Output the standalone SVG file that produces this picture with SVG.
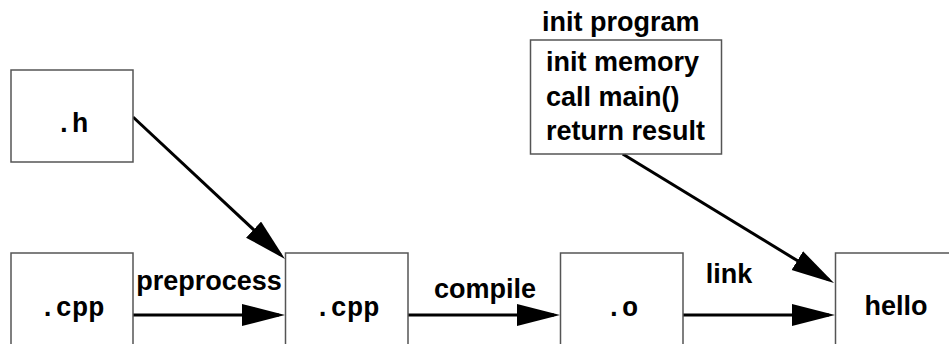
<svg xmlns="http://www.w3.org/2000/svg" width="949" height="344" viewBox="0 0 949 344">
  <style>
    .box { fill: #ffffff; stroke: #555555; stroke-width: 1.5; }
    .file { font-family: "Liberation Mono", "Courier New", monospace; font-weight: bold; font-size: 27px; fill: #000000; text-anchor: middle; }
    .lbl { font-family: "Liberation Sans", Arial, Helvetica, sans-serif; font-weight: bold; font-size: 27px; fill: #000000; }
    .mid { text-anchor: middle; }
    .edge { stroke: #000000; stroke-width: 3; fill: none; marker-end: url(#head); }
  </style>
  <defs>
    <marker id="head" markerUnits="userSpaceOnUse" markerWidth="44" markerHeight="24" refX="37" refY="11" orient="auto">
      <path d="M0,0 L43,11 L0,22 Z" fill="#000000"/>
    </marker>
  </defs>
  <rect width="949" height="344" fill="#ffffff"/>

  <!-- build steps -->
  <g id="connectors">
    <line class="edge" x1="133" y1="315" x2="279" y2="315"/>
    <line class="edge" x1="408" y1="315" x2="554" y2="315"/>
    <line class="edge" x1="683" y1="315" x2="829" y2="315"/>
    <line class="edge" x1="133" y1="117" x2="280.6" y2="254.9"/>
    <line class="edge" x1="622.7" y1="154" x2="828.9" y2="279.9"/>
    <text class="lbl mid" x="209" y="290">preprocess</text>
    <text class="lbl mid" x="485" y="298">compile</text>
    <text class="lbl mid" x="729" y="283">link</text>
  </g>

  <g id="node-h">
    <rect class="box" x="11" y="70" width="122" height="92"/>
    <text class="file" x="72" y="132">.h</text>
  </g>
  <g id="node-cpp-src">
    <rect class="box" x="11" y="253" width="122" height="92"/>
    <text class="file" x="72" y="316">.cpp</text>
  </g>
  <g id="node-cpp-pre">
    <rect class="box" x="285.5" y="253" width="122.5" height="92"/>
    <text class="file" x="347" y="316">.cpp</text>
  </g>
  <g id="node-o">
    <rect class="box" x="560.5" y="253" width="122.5" height="92"/>
    <text class="file" x="622" y="316">.o</text>
  </g>
  <g id="node-hello">
    <rect class="box" x="835.5" y="253" width="122" height="92"/>
    <text class="lbl mid" x="896" y="315">hello</text>
  </g>
  <g id="node-init">
    <text class="lbl" x="542" y="31">init program</text>
    <rect class="box" x="530.5" y="40" width="191" height="114"/>
    <text class="lbl" x="546" y="71">init memory</text>
    <text class="lbl" x="546" y="106">call main()</text>
    <text class="lbl" x="546" y="140">return result</text>
  </g>
</svg>
